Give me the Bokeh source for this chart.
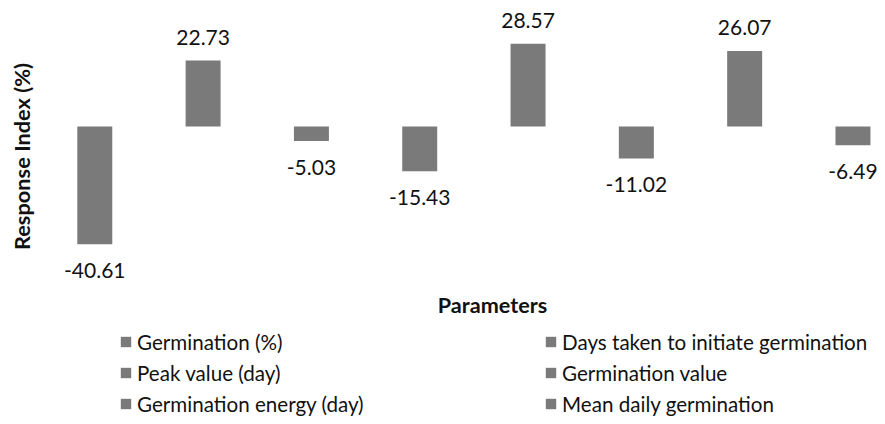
from bokeh.plotting import figure
from bokeh.models import Range1d, ColumnDataSource, Label, Legend, LegendItem
from bokeh.core.properties import value
from bokeh.embed import file_html
from bokeh.resources import INLINE
import math

# ---- data ----
values = [-40.61, 22.73, -5.03, -15.43, 28.57, -11.02, 26.07, -6.49]
value_labels = ["-40.61", "22.73", "-5.03", "-15.43", "28.57", "-11.02", "26.07", "-6.49"]
legend_labels = ["Germination (%)", "Days taken to initiate germination",
                 "Peak value (day)", "Germination value",
                 "Germination energy (day)", "Mean daily germination"]
y_title = "Response Index (%)"
x_title = "Parameters"

# ---- style ----
FONT = "Lato"
BAR = "#7a7a7a"
TXT = "#111111"
W, H = 877, 416

positions = list(range(len(values)))
src = ColumnDataSource(dict(
    x=positions,
    v=values,
    lab=value_labels,
    yo=[-23 if v >= 0 else 26 for v in values],
))

p = figure(width=W, height=H, output_backend="svg", toolbar_location=None,
           x_range=Range1d(-0.8706, 7.2265), y_range=Range1d(-100.0, 43.45),
           x_axis_location=None, y_axis_location=None,
           min_border=0, min_border_left=0, min_border_right=0,
           min_border_top=0, min_border_bottom=0)
p.grid.visible = False
p.outline_line_color = None
p.background_fill_color = "white"
p.border_fill_color = "white"

bars = p.vbar(x="x", top="v", bottom=0, width=0.323, source=src,
              fill_color=BAR, line_color=None)

p.text(x="x", y="v", text="lab", y_offset="yo", source=src,
       text_align="center", text_baseline="alphabetic",
       text_font=value(FONT), text_font_size="21px", text_color=TXT)

p.add_layout(Label(x=21, y=H - 156, x_units="screen", y_units="screen",
                   text=y_title, angle=math.pi / 2, text_align="center",
                   text_baseline="middle", text_font=FONT, text_font_size="21.8px",
                   text_font_style="bold", text_color=TXT))
p.add_layout(Label(x=492, y=H - 304, x_units="screen", y_units="screen",
                   text=x_title, text_align="center", text_baseline="middle",
                   text_font=FONT, text_font_size="21.6px",
                   text_font_style="bold", text_color=TXT))

def make_legend(idx, loc):
    items = [LegendItem(label=legend_labels[i], renderers=[bars], index=i) for i in idx]
    lg = Legend(items=items, location=loc, orientation="vertical",
                glyph_width=13, glyph_height=13, label_standoff=5,
                spacing=7, padding=0, margin=0,
                label_text_font=FONT, label_text_font_size="20.6px",
                label_text_color=TXT, label_height=24,
                border_line_color=None, background_fill_alpha=0)
    return lg

p.add_layout(make_legend([0, 2, 4], (119, 0.5)), "center")
p.add_layout(make_legend([1, 3, 5], (544, 0.5)), "center")

open("out.html", "w").write(file_html(p, INLINE))
